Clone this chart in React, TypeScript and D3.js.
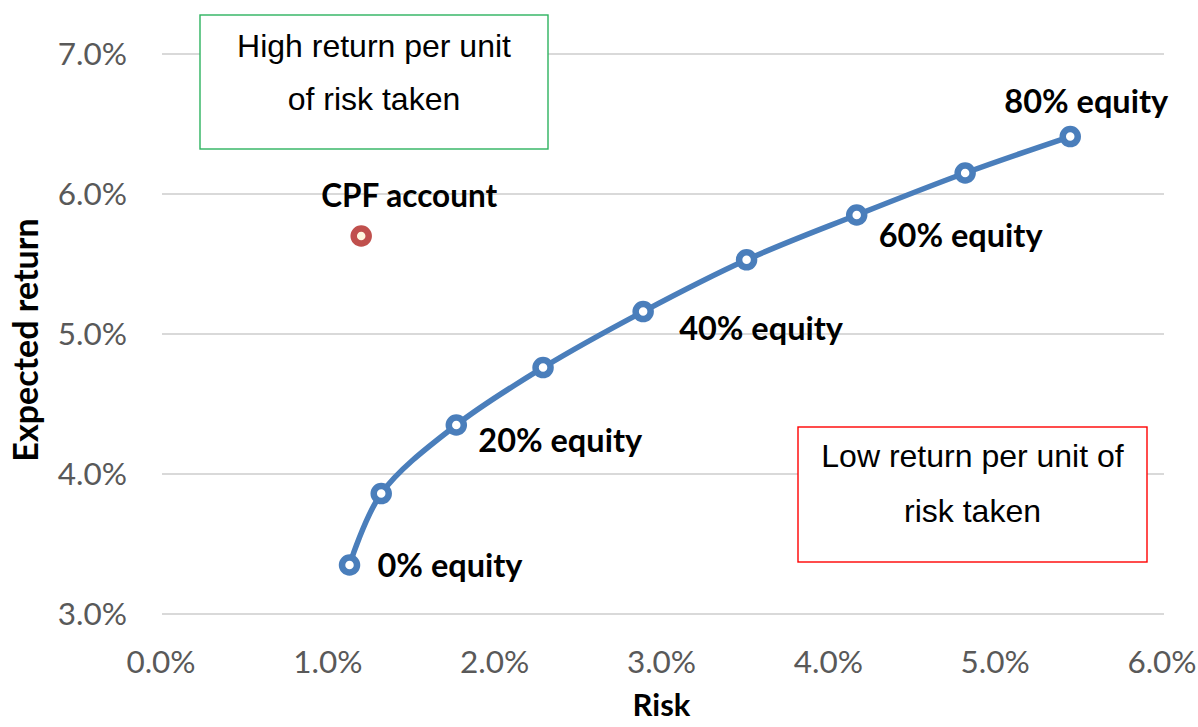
import React from "react";
import * as d3 from "d3";

// ---- data ----
const equityShares = [0, 10, 20, 30, 40, 50, 60, 70, 80];
const riskValues = [1.13, 1.32, 1.77, 2.29, 2.89, 3.51, 4.17, 4.82, 5.45];
const returnValues = [3.35, 3.86, 4.35, 4.76, 5.16, 5.53, 5.85, 6.15, 6.41];
const cpfRisk = [1.2];
const cpfReturn = [5.7];
const cpfLabel = "CPF account";
const labelledShares = [0, 20, 40, 60, 80];
const xTicks = [0, 1, 2, 3, 4, 5, 6];
const yTicks = [3, 4, 5, 6, 7];
const xTitle = "Risk";
const yTitle = "Expected return";
const highBoxLines = ["High return per unit", "of risk taken"];
const lowBoxLines = ["Low return per unit of", "risk taken"];

// ---- layout / style ----
const W = 1198;
const H = 727;
const plot = { left: 161, right: 1162, top: 54, bottom: 614 };
const BLUE = "#4a7ebb";
const RED = "#c0504d";
const GRID = "#d9d9d9";
const TICK = "#595959";
const FONT = "Lato, 'Open Sans', sans-serif";
const BOXFONT = "'Liberation Sans', Arial, sans-serif";
const LABEL_SIZE = 32.5;
const TICK_SIZE = 31.5;

// label offsets relative to the point (dx, dy of baseline, anchor)
const labelOffsets: Record<number, { dx: number; dy: number; anchor: string }> = {
  0: { dx: 28, dy: 12, anchor: "start" },
  20: { dx: 22, dy: 27, anchor: "start" },
  40: { dx: 36, dy: 28, anchor: "start" },
  60: { dx: 22, dy: 32, anchor: "start" },
  80: { dx: 16, dy: -24, anchor: "middle" },
};

export default function App() {
  const x = d3.scaleLinear().domain([0, 6]).range([plot.left, plot.right]);
  const y = d3.scaleLinear().domain([3, 7]).range([plot.bottom, plot.top]);
  const pts = riskValues.map((r, i) => [x(r), y(returnValues[i])] as [number, number]);
  const line = d3.line().curve(d3.curveCatmullRom.alpha(0.5))(pts) || "";
  const fmt = (v: number) => v.toFixed(1) + "%";

  const box = (
    x0: number,
    y0: number,
    w: number,
    h: number,
    color: string,
    lines: string[],
    b1: number,
    gap: number
  ) => (
    <g>
      <rect x={x0} y={y0} width={w} height={h} fill="#fff" stroke={color} strokeWidth={1.4} />
      {lines.map((t, i) => (
        <text
          key={i}
          x={x0 + w / 2}
          y={y0 + b1 + i * gap}
          textAnchor="middle"
          fontFamily={BOXFONT}
          fontSize={32}
          fill="#000"
        >
          {t}
        </text>
      ))}
    </g>
  );

  return (
    <svg
      width={W}
      height={H}
      style={{ position: "absolute", left: 0, top: 0, background: "#fff", display: "block" }}
    >
      {/* gridlines */}
      {yTicks.map((t) => (
        <line key={t} x1={plot.left + 1} x2={plot.right + 2} y1={y(t)} y2={y(t)} stroke={GRID} strokeWidth={2} />
      ))}
      {/* y tick labels */}
      {yTicks.map((t) => (
        <text key={t} x={127} y={y(t)} dy="0.36em" textAnchor="end" fontFamily={FONT} fontSize={TICK_SIZE} fill={TICK}>
          {fmt(t)}
        </text>
      ))}
      {/* x tick labels */}
      {xTicks.map((t) => (
        <text key={t} x={x(t)} y={673} textAnchor="middle" fontFamily={FONT} fontSize={TICK_SIZE} fill={TICK}>
          {fmt(t)}
        </text>
      ))}
      {/* axis titles */}
      <text x={x(3)} y={716} textAnchor="middle" fontFamily={FONT} fontWeight={700} fontSize={31} fill="#000">
        {xTitle}
      </text>
      <text
        transform={`translate(38, ${(plot.top + plot.bottom) / 2 + 6}) rotate(-90)`}
        textAnchor="middle"
        fontFamily={FONT}
        fontWeight={700}
        fontSize={34}
        fill="#000"
      >
        {yTitle}
      </text>

      {/* annotation boxes */}
      {box(200, 15, 348, 134, "#2db35f", highBoxLines, 42, 53)}
      {box(798, 427, 349, 135, "#ff0000", lowBoxLines, 40, 55)}

      {/* frontier line */}
      <path d={line} fill="none" stroke={BLUE} strokeWidth={5.5} strokeLinecap="round" />
      {pts.map((p, i) => (
        <circle key={i} cx={p[0]} cy={p[1]} r={7.5} fill="#fff" stroke={BLUE} strokeWidth={6.5} />
      ))}

      {/* CPF point */}
      {cpfRisk.map((r, i) => (
        <g key={i}>
          <circle cx={x(r)} cy={y(cpfReturn[i])} r={7.5} fill="#fff8e0" stroke={RED} strokeWidth={6.5} />
          <text
            x={x(r) + 48}
            y={y(cpfReturn[i]) - 29}
            textAnchor="middle"
            fontFamily={FONT}
            fontWeight={700}
            fontSize={31.5}
            fill="#000"
          >
            {cpfLabel}
          </text>
        </g>
      ))}

      {/* data labels */}
      {labelledShares.map((s) => {
        const i = equityShares.indexOf(s);
        const o = labelOffsets[s];
        return (
          <text
            key={s}
            x={pts[i][0] + o.dx}
            y={pts[i][1] + o.dy}
            textAnchor={o.anchor}
            fontFamily={FONT}
            fontWeight={700}
            fontSize={LABEL_SIZE}
            fill="#000"
          >
            {`${s}% equity`}
          </text>
        );
      })}
    </svg>
  );
}
